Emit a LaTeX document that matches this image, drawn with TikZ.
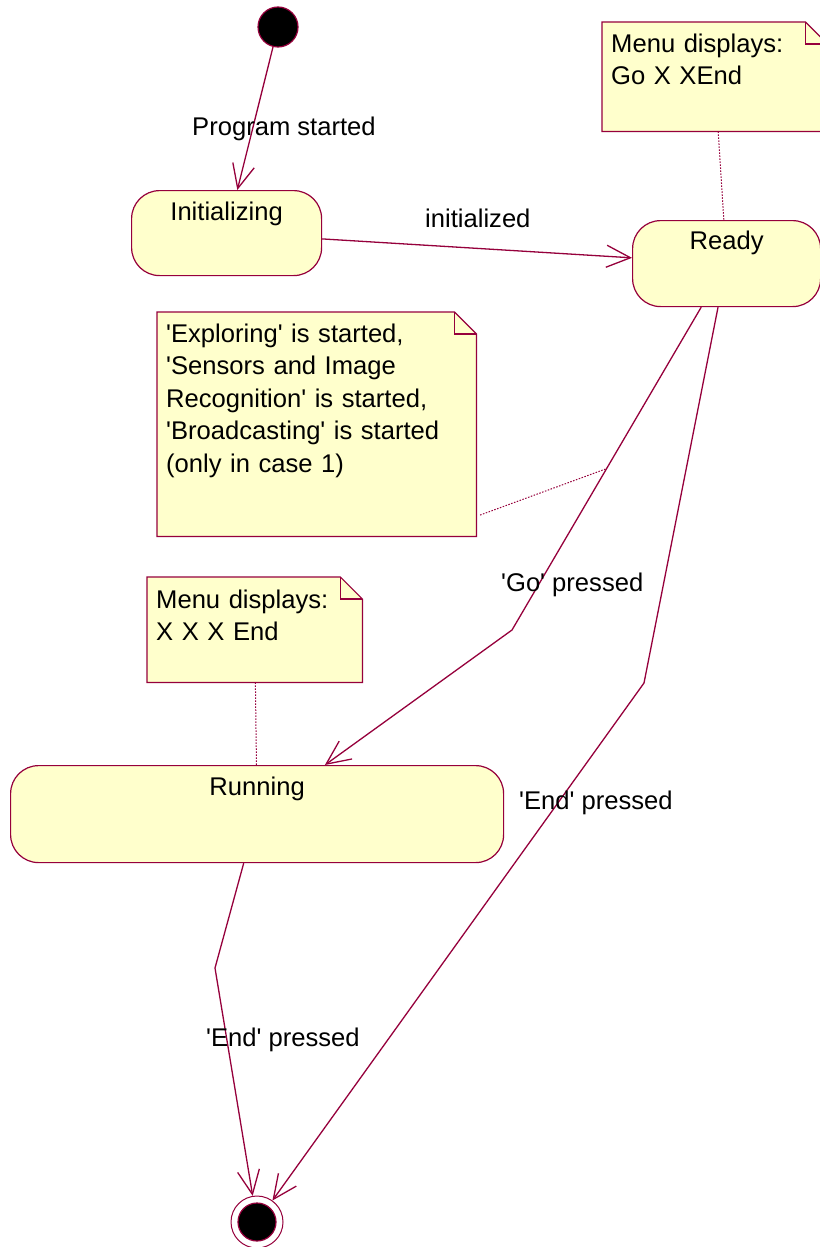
\documentclass[tikz,border=0pt]{standalone}
\usepackage{fontspec}
\setmainfont{Liberation Sans}
\usetikzlibrary{arrows.meta}
\definecolor{umlline}{RGB}{150,0,60}
\definecolor{umlfill}{RGB}{255,255,204}
\pgfdeclarelayer{background}
\pgfsetlayers{background,main}
\newcommand{\ap}{\textquotesingle}
\begin{document}
\begin{tikzpicture}[x=1pt,y=-1pt,
  font=\fontsize{25.6}{32.5}\selectfont,
  statebox/.style={draw=umlline, fill=umlfill, line width=1.2pt, rounded corners=28pt,
                   inner sep=0pt, align=center, anchor=north west},
  notebox/.style={inner xsep=9pt, inner ysep=0pt, align=left, anchor=north west},
  notepaper/.style={draw=umlline, fill=umlfill, line width=1.2pt},
  trans/.style={draw=umlline, line width=1.3pt, -{Straight Barb[length=24pt,width=22pt]}},
  anchorline/.style={draw=umlline, line width=1pt, dash pattern=on 1.5pt off 1.5pt, shorten <=4pt},
  lbl/.style={anchor=base west, inner sep=0pt}
]
\useasboundingbox (0,0) rectangle (819,1247);

% pseudo states
\node[circle, draw=umlline, fill=black, line width=1.2pt, minimum size=40pt, inner sep=0pt] (start) at (278,27) {};
\node[circle, draw=umlline, fill=white, line width=1pt, minimum size=52pt, inner sep=0pt,
      path picture={\filldraw[fill=black, draw=umlline, line width=1.2pt]
                    (path picture bounding box.center) circle (19pt);}] (final) at (257,1222) {};

% states
\node[statebox, text width=190pt, text height=30pt, text depth=55pt] (initz) at (131,190) {Initializing};
\node[statebox, text width=188pt, text height=29pt, text depth=57pt] (ready) at (632,220) {Ready};
\node[statebox, text width=493pt, text height=30pt, text depth=67pt] (running) at (10,765) {Running};

% notes (text; the paper is drawn below on the background layer)
\node[notebox, text width=207pt, text height=30pt, text depth=79pt] (n1) at (602,22)
  {Menu displays:\\Go X XEnd};
\node[notebox, text width=301pt, text height=30pt, text depth=194pt] (n2) at (157,312)
  {\ap Exploring\ap{} is started,\\\ap Sensors and Image\\Recognition\ap{} is started,\\\ap Broadcasting\ap{} is started\\(only in case 1)};
\node[notebox, text width=197pt, text height=31pt, text depth=74pt] (n3) at (147,577)
  {Menu displays:\\X X X End};

% bend points of the transitions
\coordinate (gobend) at (512,630);
\coordinate (endbend) at (644,683);
\coordinate (runbend) at (215,968);

% transitions
\draw[trans] (start) -- (initz);
\draw[trans] (initz) -- (ready);
\draw[trans] (ready) -- coordinate[pos=0.5] (gomid) (gobend) -- (running);
\draw[trans] (ready) -- (endbend) -- (final);
\draw[trans] (running) -- (runbend) -- (final);

% transition labels
\node[lbl] (lstart) at (192,135) {Program started};
\node[lbl] (linit) at (425,227) {initialized};
\node[lbl] (lgo) at (501,591) {\ap Go\ap{} pressed};
\node[lbl] (lend1) at (519,809) {\ap End\ap{} pressed};
\node[lbl] (lend2) at (206,1046) {\ap End\ap{} pressed};

% note anchors
\draw[anchorline, shorten <=0pt] (n1) -- (ready);
\draw[anchorline] (n2.-30) -- (gomid);
\draw[anchorline, shorten <=0pt] (n3) -- (running);

\begin{pgfonlayer}{background}
  \fill[white] (0,0) rectangle (819,1247);
  \foreach \n in {n1,n2,n3}{
    \path[notepaper] (\n.north west) -- ([xshift=-22pt]\n.north east)
      -- ([yshift=-22pt]\n.north east) -- (\n.south east) -- (\n.south west) -- cycle;
    \draw[notepaper, fill=none] ([xshift=-22pt]\n.north east)
      -- ([xshift=-22pt,yshift=-22pt]\n.north east) -- ([yshift=-22pt]\n.north east);
  }
\end{pgfonlayer}
\end{tikzpicture}
\end{document}
